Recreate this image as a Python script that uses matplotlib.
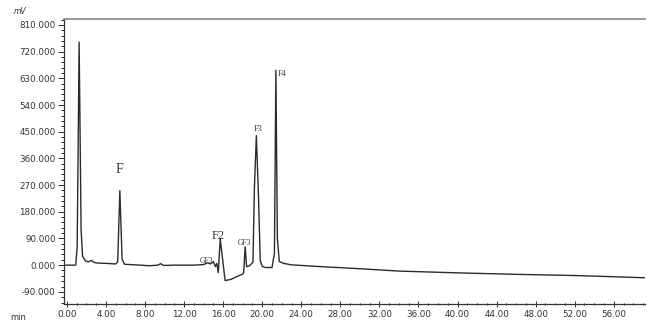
import matplotlib
matplotlib.use("Agg")
import matplotlib.pyplot as plt
from matplotlib.ticker import MultipleLocator, AutoMinorLocator, FormatStrFormatter

# trace (time in min, signal in mV)
time_min = [-0.3, 0.9, 1.05, 1.25, 1.45, 1.6, 1.9, 2.2, 2.5, 2.8, 3.2, 4.0, 5.0,
            5.2, 5.42, 5.65, 5.9, 7.0, 8.5, 9.3, 9.6, 9.9, 11.0, 13.0, 14.0,
            14.4, 14.7, 15.0, 15.2, 15.35, 15.5, 15.7, 16.2, 16.8, 17.3, 18.0,
            18.1, 18.25, 18.4, 18.7, 19.05, 19.2, 19.4, 19.6, 19.8, 20.0, 20.3,
            21.0, 21.25, 21.4, 21.55, 21.75, 22.2, 23.0, 26.0, 30.0, 34.0,
            40.0, 46.0, 52.0, 56.0, 59.5]
signal_mv = [0, 0, 60, 752, 120, 30, 14, 11, 16, 9, 7, 6, 4,
             12, 251, 20, 3, 1, -2, 0, 5, -1, 0, 0, 2,
             8, 4, 12, -5, 6, -25, 88, -52, -48, -40, -30,
             -25, 62, -5, -2, 10, 260, 437, 250, 15, -4, -8,
             -8, 40, 657, 90, 12, 6, 1, -5, -12, -20,
             -26, -31, -35, -39, -43]

# peak labels: text, time, mV, size
label_text = ["F", "GF3", "F2", "GF3", "F3", "F4"]
label_time = [5.4, 14.3, 15.5, 18.2, 19.6, 22.0]
label_mv = [300, 0, 78, 62, 445, 632]
label_size = [10, 5.5, 9, 5.5, 6, 6]

fig = plt.figure(figsize=(6.47, 3.23), dpi=100)
ax = fig.add_axes([64 / 647, 19 / 323, 581 / 647, 285 / 323])

ax.plot(time_min, signal_mv, color="#2b2b2b", lw=1.0)

for t, x, y, s in zip(label_text, label_time, label_mv, label_size):
    ax.text(x, y, t, fontsize=s, family="Liberation Serif", color="#333333",
            ha="center", va="bottom")

ax.set_xlim(-0.3, 59.2)
ax.set_ylim(-131, 830)

ax.xaxis.set_major_locator(MultipleLocator(4))
ax.xaxis.set_minor_locator(AutoMinorLocator(4))
ax.xaxis.set_major_formatter(FormatStrFormatter("%.2f"))
ax.yaxis.set_major_formatter(FormatStrFormatter("%.3f"))
ax.set_yticks([-90, 0, 90, 180, 270, 360, 450, 540, 630, 720, 810])
ax.yaxis.set_minor_locator(AutoMinorLocator(5))

ax.tick_params(axis="both", labelsize=6.3, colors="#333333", width=0.7, pad=2)
ax.tick_params(axis="y", which="major", length=4, direction="out")
ax.tick_params(axis="y", which="minor", length=2, direction="out")
ax.tick_params(axis="x", which="major", length=4, direction="inout")
ax.tick_params(axis="x", which="minor", length=2, direction="inout")

ax.spines["right"].set_visible(False)
for sp in ["left", "bottom"]:
    ax.spines[sp].set_color("#333333")
    ax.spines[sp].set_linewidth(0.9)
ax.spines["top"].set_color("#888888")
ax.spines["top"].set_linewidth(1.2)

fig.text(14 / 647, 1 - 12 / 323, "mV", fontsize=5.5, style="italic", color="#333333",
         ha="left", va="center")
fig.text(10 / 647, 1 - 317 / 323, "min", fontsize=6, color="#333333",
         ha="left", va="center")

fig.savefig("out.png", dpi=100)
